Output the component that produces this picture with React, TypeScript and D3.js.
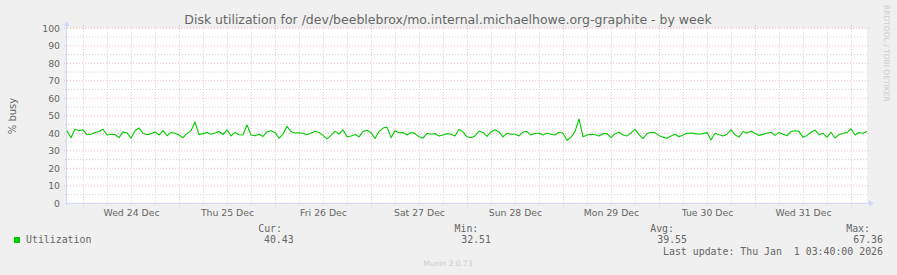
import React from "react";
import * as d3 from "d3";

const TITLE = "Disk utilization for /dev/beeblebrox/mo.internal.michaelhowe.org-graphite - by week";
const Y_LABEL = "% busy";
const SERIES_NAME = "Utilization";
const START_UTC = Date.UTC(2025, 11, 23, 20, 0, 0);
const STEP_HOURS = 1;
const Y_TICKS = [0, 10, 20, 30, 40, 50, 60, 70, 80, 90, 100];
const Y_MINOR = [5, 15, 25, 35, 45, 55, 65, 75, 85, 95];
const LEGEND_HEADERS = ["Cur:", "Min:", "Avg:", "Max:"];
const LEGEND_VALUES = ["40.43", "32.51", "39.55", "67.36"];
const LAST_UPDATE = "Last update: Thu Jan  1 03:40:00 2026";
const FOOTER = "Munin 2.0.73";
const SIDE_TEXT = "RRDTOOL / TOBI OETIKER";

const UTIL = [
  41.5, 37.5, 42.3, 41.5, 42, 39.2, 39.5, 40.5, 41, 42.3,
  39, 39.5, 39.3, 37.5, 40.8, 40.2, 37.2, 41.5, 43, 40,
  39.2, 39.8, 40.8, 39, 41.5, 38.6, 40.5, 40, 39, 37.5,
  39.8, 41.5, 46.5, 39.2, 39.8, 40.5, 39.5, 40.2, 41, 39.3,
  42,
  38.5, 40.5, 39.2, 39, 44.8, 39, 38.6, 39.5, 38.2, 40.8,
  41.5, 40.5, 37.2, 39.5, 44, 41, 40.2, 40.3, 40, 39.2,
  40, 41.2, 40.5, 38.8, 36.8, 38.8, 41.2, 39.5, 42, 38,
  38.5, 39.3, 38, 41, 41.8, 40.5, 37, 41, 43, 43.5,
  37.5, 41.5, 40.3, 40.5, 39, 40.5, 39.8, 38, 37.2, 40,
  39.5, 39.8, 38.5, 39, 39.8, 39.5, 38.5, 42.2, 40.8, 38,
  37.5, 38.5, 41.3, 40.5, 38.2, 40.8, 42, 40.8, 38, 40,
  39.5, 39.5, 38.5, 40.7, 41, 39, 40, 40, 39, 40,
  39.5, 39, 40.6, 40, 36, 37.8, 41, 48.2, 38, 39,
  39.5, 39.2, 38.5, 39.8, 39.8, 37.5, 39.8, 40.6, 39, 38.5,
  40.2, 42.2, 39.2, 37, 39.8, 40.6, 40.4, 38.8, 37.8, 37.2,
  38.5, 39.5, 38, 39, 40, 40.2, 39.8, 39.5, 39.8, 40.4,
  36.2, 40, 39.2, 38.5, 39.5, 42, 39.2, 37.8, 41, 40.2,
  41.2, 40, 38.8, 39.4, 40, 40.6, 38.8, 40.5, 39.4, 38.6,
  41, 41.5, 41.1, 37.8, 38.8, 40.6, 41.8, 39.2, 40, 37.8,
  40.6, 37.3, 39.2, 40, 40.4, 42.5, 39, 40.5, 40, 41,
];

const W = 897;
const H = 275;
const X0 = 67;
const X1 = 867;
const Y_BOTTOM = 203.3;
const Y_TOP = 28.3;
const FONT = "'DejaVu Sans', sans-serif";
const MONO = "'DejaVu Sans Mono', monospace";
const FONT_COLOR = "#666666";
const AXIS_COLOR = "#CFD6F8";
const MGRID = "rgba(222,110,110,0.42)";
const GRID = "rgba(150,150,150,0.42)";

export default function App() {
  const HOUR = 3600 * 1000;
  const times = UTIL.map((_, i) => new Date(START_UTC + i * STEP_HOURS * HOUR));
  const start = times[0];
  const end = times[times.length - 1];
  const x = d3.scaleUtc().domain([start, end]).range([X0, X1]);
  const y = d3.scaleLinear().domain([0, 100]).range([Y_BOTTOM, Y_TOP]);

  const days = d3.utcDay.range(start, end);
  const sixHours = d3.utcHour.every(6)!.range(start, end).filter((d) => d.getUTCHours() !== 0);
  const noons = d3.utcDay
    .range(d3.utcDay.offset(start, -1), end)
    .map((d) => d3.utcHour.offset(d, 12))
    .filter((d) => d >= start && d <= end && x(d) + 30 < X1);
  const fmt = d3.utcFormat("%a %-d %b");

  const line = d3
    .line<number>()
    .x((_, i) => x(times[i]))
    .y((v) => y(v));

  const legendRightX = [282, 478.3, 674, 870];
  const valueRightX = [293.7, 491, 687, 883];

  return (
    <svg
      width={W}
      height={H}
      style={{ position: "fixed", left: 0, top: 0, display: "block" }}
      xmlns="http://www.w3.org/2000/svg"
    >
      <rect x={0} y={0} width={W} height={H} fill="#F0F0F0" />
      <rect x={X0} y={Y_TOP} width={X1 - X0} height={Y_BOTTOM - Y_TOP} fill="#FFFFFF" />

      {/* minor horizontal grid */}
      {Y_MINOR.map((v) => (
        <line key={"hm" + v} x1={X0 - 2} x2={X1 + 2} y1={y(v)} y2={y(v)} stroke={GRID} strokeWidth={1} strokeDasharray="1,2" />
      ))}
      {/* minor vertical grid */}
      {sixHours.map((d) => (
        <line key={"vm" + +d} x1={x(d) + 0.5} x2={x(d) + 0.5} y1={Y_TOP - 2} y2={Y_BOTTOM + 2} stroke={GRID} strokeWidth={1} strokeDasharray="1,2" />
      ))}
      {/* major horizontal grid */}
      {Y_TICKS.filter((v) => v > 0).map((v) => (
        <line key={"hM" + v} x1={X0 - 3} x2={X1 + 3} y1={y(v)} y2={y(v)} stroke={MGRID} strokeWidth={1} strokeDasharray="1,2" />
      ))}
      {/* major vertical grid */}
      {days.map((d) => (
        <line key={"vM" + +d} x1={x(d) + 0.5} x2={x(d) + 0.5} y1={Y_TOP - 3} y2={Y_BOTTOM + 3} stroke={MGRID} strokeWidth={1} strokeDasharray="1,2" />
      ))}

      {/* axes */}
      <line x1={X0 - 0.5} x2={X0 - 0.5} y1={Y_BOTTOM + 2} y2={Y_TOP - 3} stroke={AXIS_COLOR} strokeWidth={1} />
      <path d={`M${X0 - 3.5},${Y_TOP - 2} L${X0 + 2.5},${Y_TOP - 2} L${X0 - 0.5},${Y_TOP - 7} Z`} fill={AXIS_COLOR} />
      <line x1={X0 - 2} x2={X1 + 2} y1={Y_BOTTOM} y2={Y_BOTTOM} stroke={AXIS_COLOR} strokeWidth={1} />
      <path d={`M${X1 + 2},${Y_BOTTOM - 3} L${X1 + 2},${Y_BOTTOM + 3} L${X1 + 7},${Y_BOTTOM} Z`} fill={AXIS_COLOR} />

      {/* data */}
      <path d={line(UTIL) || ""} fill="none" stroke="#00CC00" strokeWidth={1.1} strokeLinejoin="round" />

      {/* y labels */}
      {Y_TICKS.map((v) => (
        <text key={"yl" + v} x={60} y={y(v) + 3.4} textAnchor="end" fontFamily={FONT} fontSize={9.3} fill={FONT_COLOR}>
          {v}
        </text>
      ))}
      {/* x labels */}
      {noons.map((d) => (
        <text key={"xl" + +d} x={x(d) + 0.5} y={216} textAnchor="middle" fontFamily={FONT} fontSize={9.3} fill={FONT_COLOR}>
          {fmt(d)}
        </text>
      ))}

      {/* title */}
      <text x={448} y={24} textAnchor="middle" fontFamily={FONT} fontSize={12.5} fill={FONT_COLOR}>
        {TITLE}
      </text>
      {/* y axis label */}
      <text transform={`translate(16,116) rotate(-90)`} textAnchor="middle" fontFamily={FONT} fontSize={10} fill={FONT_COLOR}>
        {Y_LABEL}
      </text>
      {/* side text */}
      <text transform={`translate(884,5) rotate(90)`} textAnchor="start" fontFamily={FONT} fontSize={7.5} fill="#CCCCCC">
        {SIDE_TEXT}
      </text>

      {/* legend */}
      <rect x={14} y={237} width={6} height={6} fill="#00CC00" />
      <text x={26} y={243} fontFamily={MONO} fontSize={9.9} fill={FONT_COLOR}>
        {SERIES_NAME}
      </text>
      {LEGEND_HEADERS.map((h, i) => (
        <text key={"lh" + i} x={legendRightX[i]} y={231.7} textAnchor="end" fontFamily={MONO} fontSize={9.9} fill={FONT_COLOR}>
          {h}
        </text>
      ))}
      {LEGEND_VALUES.map((v, i) => (
        <text key={"lv" + i} x={valueRightX[i]} y={243.2} textAnchor="end" fontFamily={MONO} fontSize={9.9} fill={FONT_COLOR}>
          {v}
        </text>
      ))}
      <text x={883} y={255} textAnchor="end" fontFamily={MONO} fontSize={9.9} fill={FONT_COLOR} style={{ whiteSpace: "pre" }} xmlSpace="preserve">
        {LAST_UPDATE}
      </text>
      <text x={448} y={266} textAnchor="middle" fontFamily={FONT} fontSize={7.5} fill="#CCCCCC">
        {FOOTER}
      </text>
    </svg>
  );
}
